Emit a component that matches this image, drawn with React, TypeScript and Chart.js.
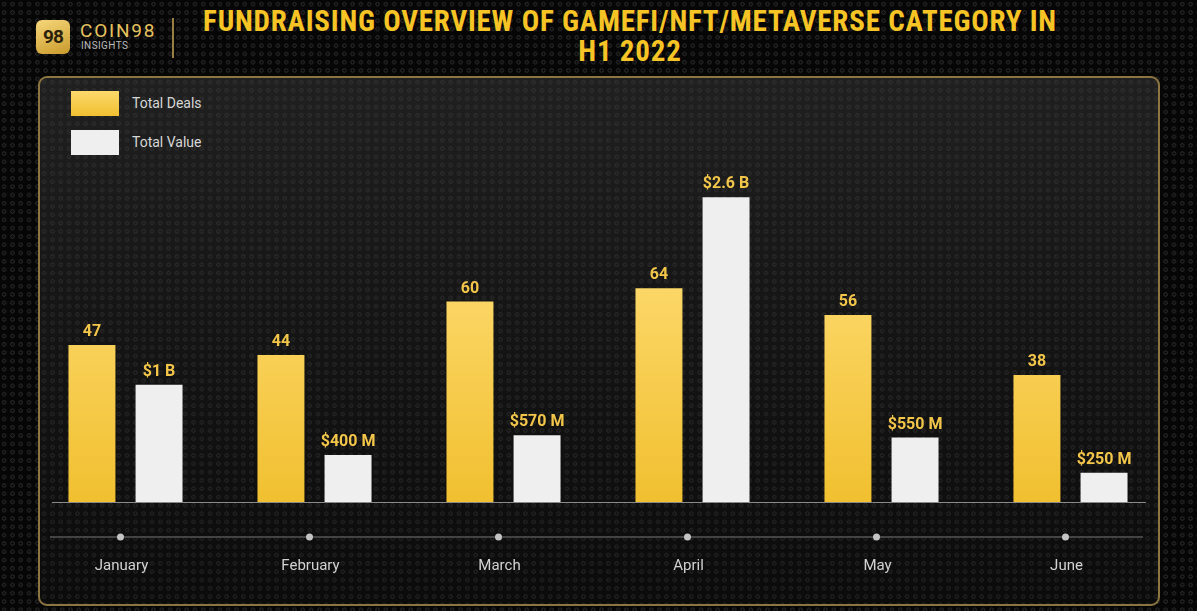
import { useEffect, useRef } from "react";
import { Chart, registerables } from "chart.js";

Chart.register(...registerables);

const months = ["January", "February", "March", "April", "May", "June"];
const totalDeals = [47, 44, 60, 64, 56, 38];
// billions of USD
const totalValue = [1, 0.4, 0.57, 2.6, 0.55, 0.25];

const GOLD = "#f3c64a";

function formatValue(v: number) {
  return v >= 1 ? `$${v} B` : `$${Math.round(v * 1000)} M`;
}

const barLabels = {
  id: "barLabels",
  afterDatasetsDraw(chart: Chart) {
    const ctx = chart.ctx;
    ctx.save();
    ctx.font = "bold 16px Roboto";
    ctx.fillStyle = GOLD;
    ctx.textAlign = "center";
    ctx.textBaseline = "bottom";
    chart.data.datasets.forEach((ds, di) => {
      const meta = chart.getDatasetMeta(di);
      meta.data.forEach((bar: any, i) => {
        const v = ds.data[i] as number;
        const text = di === 0 ? String(v) : formatValue(v);
        ctx.fillText(text, bar.x, bar.y - 5);
      });
    });
    ctx.restore();
  },
};

const axisLines = {
  id: "axisLines",
  beforeDatasetsDraw(chart: Chart) {
    const ctx = chart.ctx;
    const x = chart.scales.x;
    const y0 = chart.scales.y.getPixelForValue(0);
    ctx.save();
    // baseline
    ctx.strokeStyle = "#8a8a8a";
    ctx.lineWidth = 1;
    ctx.beginPath();
    ctx.moveTo(52, y0 + 0.5);
    ctx.lineTo(1146, y0 + 0.5);
    ctx.stroke();
    // timeline
    const ty = y0 + 35;
    ctx.strokeStyle = "#555";
    ctx.lineWidth = 1.5;
    ctx.beginPath();
    ctx.moveTo(50, ty);
    ctx.lineTo(1143, ty);
    ctx.stroke();
    ctx.fillStyle = "#c4c4c4";
    months.forEach((_, i) => {
      ctx.beginPath();
      ctx.arc(x.getPixelForValue(i) - 5, ty, 3.5, 0, Math.PI * 2);
      ctx.fill();
    });
    ctx.restore();
  },
};

function FundraisingChart() {
  const chartRef = useRef<HTMLCanvasElement>(null);
  const chartInstance = useRef<Chart | null>(null);

  useEffect(() => {
    if (!chartRef.current) return;
    if (chartInstance.current) chartInstance.current.destroy();
    const ctx = chartRef.current.getContext("2d");
    if (!ctx) return;

    const dealsFill = (c: any) => {
      const area = c.chart.chartArea;
      if (!area) return GOLD;
      const y0 = c.chart.scales.y.getPixelForValue(0);
      const g = c.chart.ctx.createLinearGradient(0, area.top + 100, 0, y0);
      g.addColorStop(0, "#fdd96c");
      g.addColorStop(1, "#f1c030");
      return g;
    };

    chartInstance.current = new Chart(ctx, {
      type: "bar",
      data: {
        labels: months,
        datasets: [
          {
            label: "Total Deals",
            data: totalDeals,
            backgroundColor: dealsFill,
            yAxisID: "y",
            categoryPercentage: 0.71,
            barPercentage: 0.7,
          },
          {
            label: "Total Value",
            data: totalValue,
            backgroundColor: "#efefef",
            yAxisID: "y1",
            categoryPercentage: 0.71,
            barPercentage: 0.7,
          },
        ],
      },
      options: {
        animation: false,
        responsive: true,
        maintainAspectRatio: false,
        layout: { padding: { left: 31, right: 32, top: 168, bottom: 0 } },
        scales: {
          x: {
            grid: { display: false, drawTicks: false },
            border: { display: false },
            ticks: {
              color: "#d2d2d2",
              padding: 55,
              labelOffset: -4,
              font: { family: "Roboto", size: 15 },
            },
          },
          y: { display: false, min: 0, max: 100 },
          y1: { display: false, min: 0, max: 2.85 },
        },
        plugins: {
          legend: { display: false },
          tooltip: { enabled: false },
        },
      },
      plugins: [axisLines, barLabels],
    });

    return () => {
      if (chartInstance.current) {
        chartInstance.current.destroy();
        chartInstance.current = null;
      }
    };
  }, []);

  return <canvas ref={chartRef} />;
}

const dots =
  "radial-gradient(circle, rgba(0,0,0,0) 0.9px, rgba(70,70,70,0.55) 1.3px, rgba(70,70,70,0.55) 1.9px, rgba(0,0,0,0) 2.3px)";
const panelDots =
  "radial-gradient(circle, rgba(0,0,0,0) 0.9px, rgba(80,80,80,0.35) 1.3px, rgba(80,80,80,0.35) 1.9px, rgba(0,0,0,0) 2.3px)";

export default function App() {
  const legend = [
    { label: "Total Deals", color: "linear-gradient(180deg,#fdd96c,#f1c030)", top: 91 },
    { label: "Total Value", color: "#efefef", top: 130 },
  ];
  return (
    <div
      style={{
        position: "fixed",
        left: 0,
        top: 0,
        width: 1197,
        height: 611,
        overflow: "hidden",
        backgroundColor: "#060606",
        backgroundImage: dots,
        backgroundSize: "8.3px 8.3px",
        fontFamily: "Roboto, sans-serif",
      }}
    >
      {/* logo */}
      <div
        style={{
          position: "absolute",
          left: 36,
          top: 20,
          width: 34,
          height: 34,
          borderRadius: 6,
          background: "linear-gradient(160deg,#f6d77a,#c99a2c)",
          color: "#2b220a",
          fontWeight: 700,
          fontSize: 19,
          lineHeight: "34px",
          textAlign: "center",
          letterSpacing: -1,
        }}
      >
        98
      </div>
      <div
        style={{
          position: "absolute",
          left: 80,
          top: 20,
          color: "#e6c25e",
          fontSize: 19,
          lineHeight: "22px",
          letterSpacing: 1.8,
        }}
      >
        COIN98
      </div>
      <div
        style={{
          position: "absolute",
          left: 81,
          top: 40,
          color: "#b9b9b9",
          fontSize: 10,
          lineHeight: "12px",
          letterSpacing: 0.4,
        }}
      >
        INSIGHTS
      </div>
      <div style={{ position: "absolute", left: 172, top: 18, width: 1.5, height: 40, background: "#9a7f42" }} />
      {/* title */}
      <div
        style={{
          position: "absolute",
          left: 130,
          top: 6,
          width: 1000,
          textAlign: "center",
          color: "#f6c425",
          fontFamily: "'Liberation Sans Narrow', 'Roboto Condensed', sans-serif",
          fontWeight: 700,
          fontSize: 29,
          lineHeight: "30px",
          letterSpacing: 0.8,
        }}
      >
        FUNDRAISING OVERVIEW OF GAMEFI/NFT/METAVERSE CATEGORY IN
        <br />
        H1 2022
      </div>
      {/* panel */}
      <div
        style={{
          position: "absolute",
          left: 38,
          top: 76,
          width: 1122,
          height: 530,
          boxSizing: "border-box",
          border: "2px solid #8c7541",
          borderRadius: 9,
          backgroundImage: `${panelDots}, linear-gradient(180deg, #202020 0%, #151515 45%, #0b0b0b 100%)`,
          backgroundSize: "8.3px 8.3px, 100% 100%",
        }}
      />
      {legend.map((l) => (
        <div key={l.label}>
          <div
            style={{
              position: "absolute",
              left: 71,
              top: l.top,
              width: 48,
              height: 25,
              background: l.color,
            }}
          />
          <div
            style={{
              position: "absolute",
              left: 132,
              top: l.top + 3,
              color: "#d6d6d6",
              fontSize: 14,
              lineHeight: "18px",
            }}
          >
            {l.label}
          </div>
        </div>
      ))}
      {/* the x axis counts its tick padding twice, so the canvas runs past the page bottom */}
      <div style={{ position: "absolute", left: 0, top: 0, width: 1197, height: 630 }}>
        <FundraisingChart />
      </div>
    </div>
  );
}
